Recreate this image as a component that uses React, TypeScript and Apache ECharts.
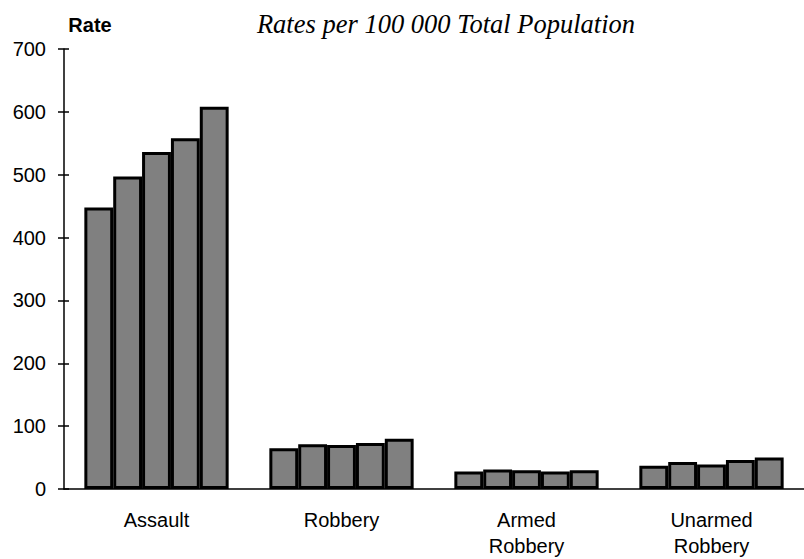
import { useEffect, useRef } from 'react';
import * as echarts from 'echarts';

// categories along the x axis (two-line labels keep the line break)
const categories = ['Assault', 'Robbery', 'Armed\nRobbery', 'Unarmed\nRobbery'];

// five bars per category (rate per 100 000)
const seriesNames = ['Series 1', 'Series 2', 'Series 3', 'Series 4', 'Series 5'];
const series1 = [448, 65, 28, 37];
const series2 = [497, 71, 31, 43];
const series3 = [536, 70, 30, 39];
const series4 = [558, 73, 28, 46];
const series5 = [608, 80, 30, 50];

const yMin = 0;
const yMax = 700;
const yStep = 100;

const subtitleText = 'Rates per 100 000 Total Population';
const yAxisTitle = 'Rate';

export default function App() {
    const chartRef = useRef<HTMLDivElement>(null);

    useEffect(() => {
        if (!chartRef.current) return;

        const chart = echarts.init(chartRef.current, undefined, { renderer: 'svg' });

        const sans = '"Liberation Sans", Arial, sans-serif';
        const values = [series1, series2, series3, series4, series5];

        const option: echarts.EChartsOption = {
            animation: false,
            backgroundColor: '#ffffff',
            grid: {
                left: 64,
                top: 49,
                width: 746,
                height: 442,
                containLabel: false
            },
            graphic: [
                {
                    type: 'text',
                    x: 446,
                    y: 24,
                    style: {
                        text: subtitleText,
                        fontFamily: '"Liberation Serif", "Times New Roman", serif',
                        fontStyle: 'italic',
                        fontSize: 26.5,
                        fill: '#000',
                        align: 'center',
                        verticalAlign: 'middle'
                    }
                },
                {
                    type: 'text',
                    x: 90,
                    y: 25,
                    style: {
                        text: yAxisTitle,
                        fontFamily: sans,
                        fontWeight: 'bold',
                        fontSize: 20,
                        fill: '#000',
                        align: 'center',
                        verticalAlign: 'middle'
                    }
                }
            ],
            xAxis: [
                {
                    type: 'category',
                    data: categories,
                    axisLine: { lineStyle: { color: '#000', width: 1.5 } },
                    axisTick: { length: 6, lineStyle: { color: '#000', width: 1.5 } },
                    axisLabel: {
                        interval: 0,
                        margin: 18,
                        color: '#000',
                        fontFamily: sans,
                        fontSize: 20,
                        lineHeight: 26
                    },
                    splitLine: { show: false }
                },
                {
                    // second copy only for the inward half of the crossing ticks
                    type: 'category',
                    data: categories,
                    position: 'bottom',
                    axisLine: { show: false },
                    axisTick: { inside: true, length: 5, lineStyle: { color: '#000', width: 1.5 } },
                    axisLabel: { show: false },
                    splitLine: { show: false }
                }
            ],
            yAxis: [
                {
                    type: 'value',
                    min: yMin,
                    max: yMax,
                    interval: yStep,
                    axisLine: { show: true, lineStyle: { color: '#000', width: 1.5 } },
                    axisTick: { show: true, length: 6, lineStyle: { color: '#000', width: 1.5 } },
                    axisLabel: {
                        margin: 18,
                        color: '#000',
                        fontFamily: sans,
                        fontSize: 20
                    },
                    splitLine: { show: false }
                },
                {
                    type: 'value',
                    min: yMin,
                    max: yMax,
                    interval: yStep,
                    position: 'left',
                    axisLine: { show: false },
                    axisTick: { show: true, inside: true, length: 5, lineStyle: { color: '#000', width: 1.5 } },
                    axisLabel: { show: false },
                    splitLine: { show: false }
                }
            ],
            series: values.map((data, i) => ({
                type: 'bar',
                name: seriesNames[i],
                data: data,
                xAxisIndex: 0,
                yAxisIndex: 0,
                barGap: '0%',
                barCategoryGap: '22%',
                itemStyle: {
                    color: '#808080',
                    borderColor: '#000',
                    borderWidth: 3
                }
            }))
        };

        chart.setOption(option);

        return () => {
            chart.dispose();
        };
    }, []);

    return (
        <div
            ref={chartRef}
            style={{
                position: 'fixed',
                left: 0,
                top: 0,
                width: 804,
                height: 559
            }}
        />
    );
}
